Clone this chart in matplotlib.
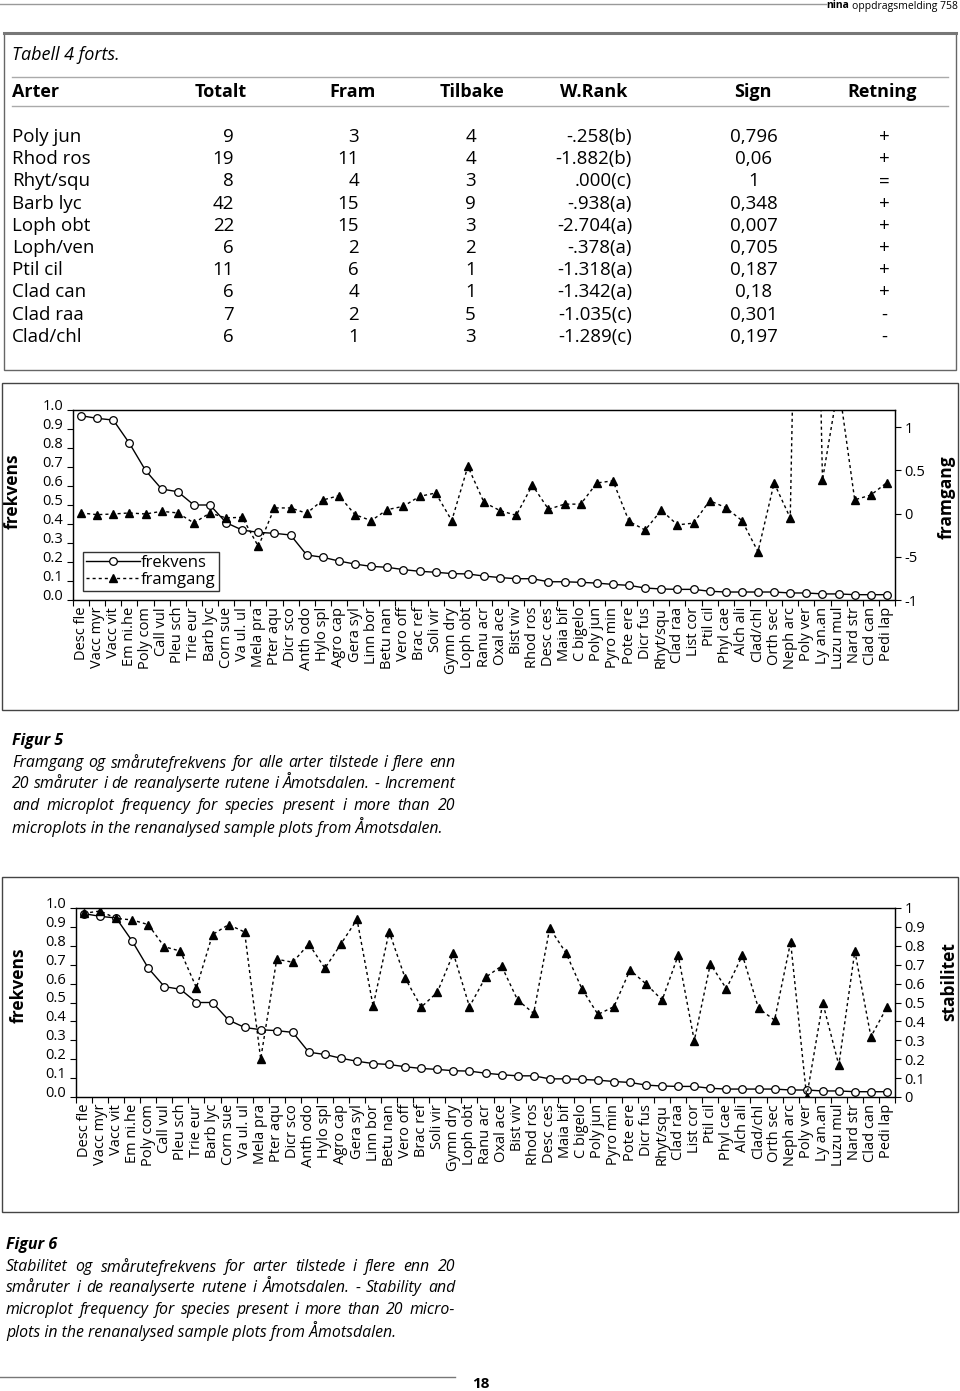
import matplotlib
matplotlib.use('Agg')
import matplotlib.pyplot as plt
from matplotlib.patches import Rectangle
from matplotlib.lines import Line2D
import numpy as np

plt.rcParams['font.family'] = ['Open Sans', 'DejaVu Sans']

# ---- table data ----
tab_header = ["Arter", "Totalt", "Fram", "Tilbake", "W.Rank", "Sign", "Retning"]
tab_arter = ["Poly jun", "Rhod ros", "Rhyt/squ", "Barb lyc", "Loph obt", "Loph/ven",
             "Ptil cil", "Clad can", "Clad raa", "Clad/chl"]
tab_totalt = [9, 19, 8, 42, 22, 6, 11, 6, 7, 6]
tab_fram = [3, 11, 4, 15, 15, 2, 6, 4, 2, 1]
tab_tilbake = [4, 4, 3, 9, 3, 2, 1, 1, 5, 3]
tab_wrank = ["-.258(b)", "-1.882(b)", ".000(c)", "-.938(a)", "-2.704(a)", "-.378(a)",
             "-1.318(a)", "-1.342(a)", "-1.035(c)", "-1.289(c)"]
tab_sign = ["0,796", "0,06", "1", "0,348", "0,007", "0,705", "0,187", "0,18", "0,301", "0,197"]
tab_retning = ["+", "+", "=", "+", "+", "+", "+", "+", "-", "-"]

# ---- chart data ----
species = ["Desc fle", "Vacc myr", "Vacc vit", "Em ni.he", "Poly com", "Call vul", "Pleu sch",
           "Trie eur", "Barb lyc", "Corn sue", "Va ul. ul", "Mela pra", "Pter aqu", "Dicr sco",
           "Anth odo", "Hylo spl", "Agro cap", "Gera syl", "Linn bor", "Betu nan", "Vero off",
           "Brac ref", "Soli vir", "Gymn dry", "Loph obt", "Ranu acr", "Oxal ace", "Bist viv",
           "Rhod ros", "Desc ces", "Maia bif", "C bigelo", "Poly jun", "Pyro min", "Pote ere",
           "Dicr fus", "Rhyt/squ", "Clad raa", "List cor", "Ptil cil", "Phyl cae", "Alch ali",
           "Clad/chl", "Orth sec", "Neph arc", "Poly ver", "Ly an.an", "Luzu mul", "Nard str",
           "Clad can", "Pedi lap"]
frekvens = [0.970, 0.956, 0.947, 0.825, 0.682, 0.584, 0.570, 0.500, 0.500, 0.407,
            0.368, 0.356, 0.351, 0.342, 0.237, 0.225, 0.205, 0.189, 0.177, 0.172,
            0.160, 0.151, 0.146, 0.139, 0.137, 0.126, 0.118, 0.112, 0.112, 0.096,
            0.096, 0.093, 0.089, 0.082, 0.077, 0.063, 0.058, 0.056, 0.056, 0.046,
            0.042, 0.042, 0.042, 0.042, 0.037, 0.037, 0.032, 0.032, 0.028, 0.028, 0.028]
framgang = [0.008, -0.012, -0.004, 0.008, -0.004, 0.027, 0.008, -0.108, 0.008, -0.05,
            -0.042, -0.38, 0.066, 0.066, 0.004, 0.158, 0.208, -0.012, -0.081, 0.046,
            0.085, 0.2, 0.239, -0.081, 0.547, 0.13, 0.035, -0.02, 0.33, 0.05,
            0.11, 0.11, 0.355, 0.38, -0.09, -0.19, 0.04, -0.13, -0.11, 0.15,
            0.07, -0.08, -0.44, 0.355, -0.05, 9.5, 0.39, 1.5, 0.16, 0.215, 0.36]
stabilitet = [0.972, 0.984, 0.945, 0.937, 0.912, 0.795, 0.772, 0.578, 0.859, 0.912,
              0.873, 0.201, 0.729, 0.713, 0.810, 0.681, 0.810, 0.940, 0.481, 0.875,
              0.628, 0.476, 0.554, 0.760, 0.478, 0.633, 0.693, 0.513, 0.443, 0.893,
              0.764, 0.573, 0.437, 0.478, 0.672, 0.598, 0.513, 0.750, 0.298, 0.704,
              0.573, 0.750, 0.469, 0.407, 0.820, 0.0, 0.499, 0.169, 0.772, 0.319, 0.475]

cap5 = ["Framgang og smårutefrekvens for alle arter tilstede i flere enn",
        "20 småruter i de reanalyserte rutene i Åmotsdalen. - Increment",
        "and microplot frequency for species present i more than 20",
        "microplots in the renanalysed sample plots from Åmotsdalen."]
cap6 = ["Stabilitet og smårutefrekvens for arter tilstede i flere enn 20",
        "småruter i de reanalyserte rutene i Åmotsdalen. - Stability and",
        "microplot frequency for species present i more than 20 micro-",
        "plots in the renanalysed sample plots from Åmotsdalen."]

W, H = 960, 1391
fig = plt.figure(figsize=(W / 100, H / 100), dpi=100)


def fx(x):
    return x / W


def fy(y):
    return 1 - y / H


def txt(x, y, s, **kw):
    kw.setdefault('va', 'center')
    return fig.text(fx(x), fy(y), s, **kw)


def box(x0, y0, x1, y1, lw=1.0, color='#444444'):
    fig.add_artist(Rectangle((fx(x0), fy(y1)), (x1 - x0) / W, (y1 - y0) / H,
                             transform=fig.transFigure, fill=False, lw=lw, edgecolor=color))


def hline(x0, x1, y, lw=1.0, color='#888888'):
    fig.add_artist(Line2D([fx(x0), fx(x1)], [fy(y), fy(y)], transform=fig.transFigure,
                          lw=lw, color=color))


renderer = fig.canvas.get_renderer()


def justified(lines, x0, x1, y0, dy, size):
    for k, line in enumerate(lines):
        y = y0 + k * dy
        if k == len(lines) - 1:
            txt(x0, y, line, fontsize=size, style='italic')
            continue
        words = line.split(' ')
        objs = [txt(x0, y, w, fontsize=size, style='italic') for w in words]
        widths = [o.get_window_extent(renderer=renderer).width for o in objs]
        gap = (x1 - x0 - sum(widths)) / (len(words) - 1)
        x = x0
        for o, w in zip(objs, widths):
            o.set_x(fx(x))
            x += w + gap


# ---- page header ----
hline(0, 826, 4, lw=1.0, color='#999999')
txt(849, 6, "nina", fontsize=7.5, fontweight='bold', ha='right')
txt(852, 6, "oppdragsmelding 758", fontsize=7.5)

# ---- table ----
box(4, 33, 956, 370, lw=1.0, color='#666666')
hline(4, 956, 33, lw=2.2, color='#777777')
txt(12, 55, "Tabell 4 forts.", fontsize=13, style='italic')
hline(12, 948, 77, color='#aaaaaa')
hline(12, 948, 106, color='#aaaaaa')
head_x = [12, 221, 353, 472, 594, 753, 882]
for i, h in enumerate(tab_header):
    txt(head_x[i], 92, h, fontsize=13, fontweight='bold', ha='left' if i == 0 else 'center')
for k in range(len(tab_arter)):
    y = 137 + 22.2 * k
    txt(12, y, tab_arter[k], fontsize=13.5)
    txt(234, y, str(tab_totalt[k]), fontsize=13.5, ha='right')
    txt(359, y, str(tab_fram[k]), fontsize=13.5, ha='right')
    txt(476, y, str(tab_tilbake[k]), fontsize=13.5, ha='right')
    txt(632, y, tab_wrank[k], fontsize=13.5, ha='right')
    txt(754, y, tab_sign[k], fontsize=13.5, ha='center')
    txt(884, y, tab_retning[k], fontsize=13.5, ha='center')


# ---- charts ----
def chart(x0, x1, y0, y1, right_vals, rlim, rticks, rlabels, rname, lpos, rpos):
    ax = fig.add_axes([fx(x0), fy(y1), (x1 - x0) / W, (y1 - y0) / H])
    x = np.arange(len(species))
    l1, = ax.plot(x, frekvens, '-', color='black', lw=1.0, marker='o', ms=5.5,
                  mfc='white', mec='black', mew=0.9)
    ax.set_xlim(-0.5, len(species) - 0.5)
    ax.set_ylim(0, 1)
    ax.set_yticks(np.arange(0, 1.01, 0.1))
    ax.set_yticklabels([f"{v:.1f}" for v in np.arange(0, 1.01, 0.1)], fontsize=10.5)
    for lab in ax.get_yticklabels():
        lab.set_va('baseline')
    ax.set_xticks(x)
    ax.set_xticklabels(species, rotation=90, fontsize=10.5, va='top', ha='center')
    ax.set_xticks(np.arange(-0.5, len(species)), minor=True)
    ax.tick_params(axis='x', which='major', length=0, pad=5)
    ax.tick_params(axis='x', which='minor', length=4, direction='out', width=0.8)
    ax.tick_params(axis='y', length=4, direction='out', width=0.8, pad=3)
    ax.set_ylabel("frekvens", fontsize=12.5, fontweight='bold')
    ax.yaxis.set_label_coords(*lpos)
    for s in ax.spines.values():
        s.set_linewidth(1.0)
        s.set_color('#222222')

    ax2 = ax.twinx()
    l2, = ax2.plot(x, right_vals, color='black', lw=1.0, linestyle=(0, (2.2, 2.2)),
                   marker='^', ms=6, mfc='black', mec='black')
    ax2.set_ylim(*rlim)
    ax2.set_yticks(rticks)
    ax2.set_yticklabels(rlabels, fontsize=10.5)
    ax2.tick_params(axis='y', length=4, direction='out', width=0.8, pad=3)
    ax2.set_ylabel(rname, fontsize=12.5, fontweight='bold')
    ax2.yaxis.set_label_coords(*rpos)
    return ax, ax2, l1, l2


ax, ax2, l1, l2 = chart(73, 895, 410, 600, framgang, (-1, 1.2), [-1, -0.5, 0, 0.5, 1],
                        ["-1", "-5", "0", "0.5", "1"], "framgang",
                        (-0.062, 0.57), (1.052, 0.54))
leg = ax2.legend([l1, l2], ["frekvens", "framgang"], loc='lower left',
                 bbox_to_anchor=(0.012, 0.045), fontsize=12, frameon=True, fancybox=False,
                 edgecolor='#333333', framealpha=1, numpoints=1, handlelength=3.2,
                 borderpad=0.2, labelspacing=0.05, handletextpad=0.1, borderaxespad=0)
leg.get_frame().set_linewidth(1.0)
box(2, 383, 958, 710, color='#444444')

stab_ticks = [0, 0.1, 0.2, 0.3, 0.4, 0.5, 0.6, 0.7, 0.8, 0.9, 1]
chart(76, 895, 908, 1097, stabilitet, (0, 1), stab_ticks,
      ["0", "0.1", "0.2", "0.3", "0.4", "0.5", "0.6", "0.7", "0.8", "0.9", "1"],
      "stabilitet", (-0.059, 0.59), (1.055, 0.61))
box(2, 877, 958, 1212, color='#444444')

# ---- captions ----
txt(12, 741, "Figur 5", fontsize=11.5, fontweight='bold', style='italic')
justified(cap5, 12, 455, 763, 21.4, 11.4)
txt(6, 1245, "Figur 6", fontsize=11.5, fontweight='bold', style='italic')
justified(cap6, 6, 455, 1267, 21.4, 11.4)

# ---- footer ----
hline(0, 455, 1377, lw=1.0, color='#777777')
txt(481, 1384, "18", fontsize=11, fontweight='bold', ha='center')

fig.savefig("out.png", dpi=100)
